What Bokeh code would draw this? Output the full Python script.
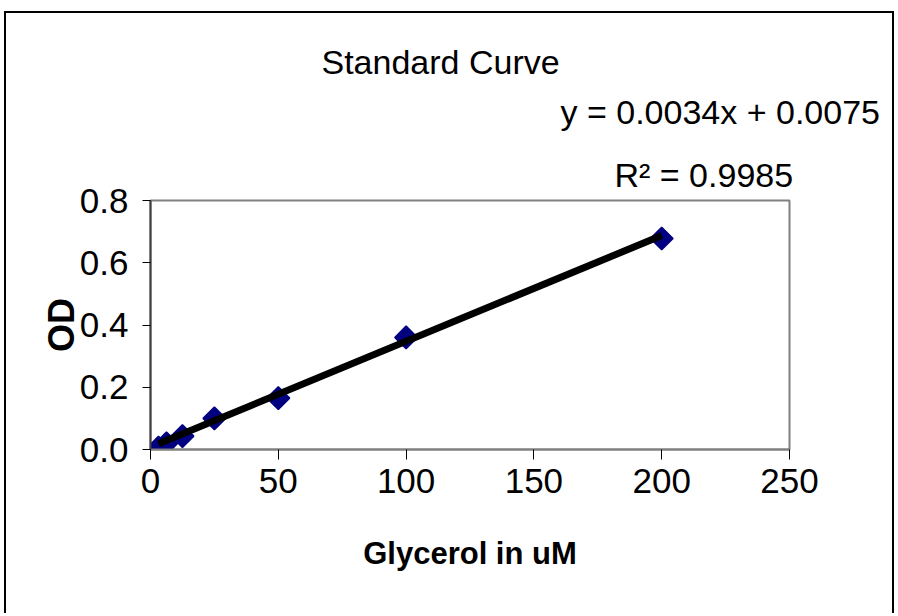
from bokeh.plotting import figure
from bokeh.models import Range1d, FixedTicker, NumeralTickFormatter, Title
from bokeh.embed import file_html
from bokeh.resources import INLINE
import numpy as np

# ---- data ----
glycerol_uM = [3.125, 6.25, 12.5, 25, 50, 100, 200]
od_values = [0.006, 0.020, 0.043, 0.100, 0.165, 0.360, 0.678]
trend_slope = 0.0034
trend_intercept = 0.0075
r_squared = 0.9985
x_ticks = [0, 50, 100, 150, 200, 250]
y_ticks = [0.0, 0.2, 0.4, 0.6, 0.8]
title_text = "Standard Curve"
x_label = "Glycerol in uM"
y_label = "OD"

FONT = "Liberation Sans"
W, H = 890, 602

p = figure(width=W, height=H, output_backend="svg", toolbar_location=None,
           title=None,
           x_range=Range1d(0, 250), y_range=Range1d(0, 0.8),
           min_border_left=144, min_border_right=107,
           min_border_top=187, min_border_bottom=166)
p.styles = {"border-left": "2px solid black", "border-top": "2px solid black",
            "border-right": "2px solid black",
            "margin-left": "4px", "margin-top": "11px"}

p.xgrid.visible = False
p.ygrid.visible = False
p.outline_line_color = "#808080"
p.outline_line_width = 2
p.background_fill_color = "white"
p.border_fill_color = "white"

# axes
p.xaxis.ticker = FixedTicker(ticks=x_ticks)
p.yaxis.ticker = FixedTicker(ticks=y_ticks)
p.yaxis.formatter = NumeralTickFormatter(format="0.0")
for ax in (p.xaxis[0], p.yaxis[0]):
    ax.major_tick_in = 0
    ax.minor_tick_line_color = None
    ax.major_tick_line_color = "black"
    ax.major_tick_line_width = 1
    ax.major_label_text_font = FONT
    ax.major_label_text_font_size = "35px"
    ax.major_label_text_color = "black"
    ax.axis_label_text_font = FONT
    ax.axis_label_text_font_style = "bold"
    ax.axis_label_text_color = "black"
p.xaxis.axis_label_text_font_size = "31px"
p.yaxis.axis_label_text_font_size = "36px"
p.xaxis.major_tick_out = 10
p.yaxis.major_tick_out = 8
p.xaxis.axis_line_color = "#808080"
p.xaxis.axis_line_width = 2
p.yaxis.axis_line_color = "#404040"
p.yaxis.axis_line_width = 2
p.xaxis.major_label_standoff = 9
p.yaxis.major_label_standoff = 14
p.xaxis.axis_label = x_label
p.yaxis.axis_label = y_label
p.xaxis.axis_label_standoff = 40
p.yaxis.axis_label_standoff = -5

# points
p.scatter(glycerol_uM, od_values, marker="square", angle=np.pi / 4, size=16,
          fill_color="#000080", line_color="#000080", line_width=1.5)

# trend line
tx = [glycerol_uM[0], glycerol_uM[-1]]
ty = [trend_slope * v + trend_intercept for v in tx]
p.line(tx, ty, line_color="black", line_width=7)

# texts above the plot area (first added = closest to the frame)
def add_title(text, offset, standoff, size="34px"):
    p.add_layout(Title(text=text, align="left", offset=offset, standoff=standoff,
                       text_font=FONT, text_font_size=size,
                       text_font_style="normal", text_color="black"), "above")

add_title(f"R\u00b2 = {r_squared}", 464, 14)
add_title(f"y = {trend_slope}x + {trend_intercept}", 410, 32)
add_title(title_text, 171, -12)

open("out.html", "w").write(file_html(p, INLINE))
